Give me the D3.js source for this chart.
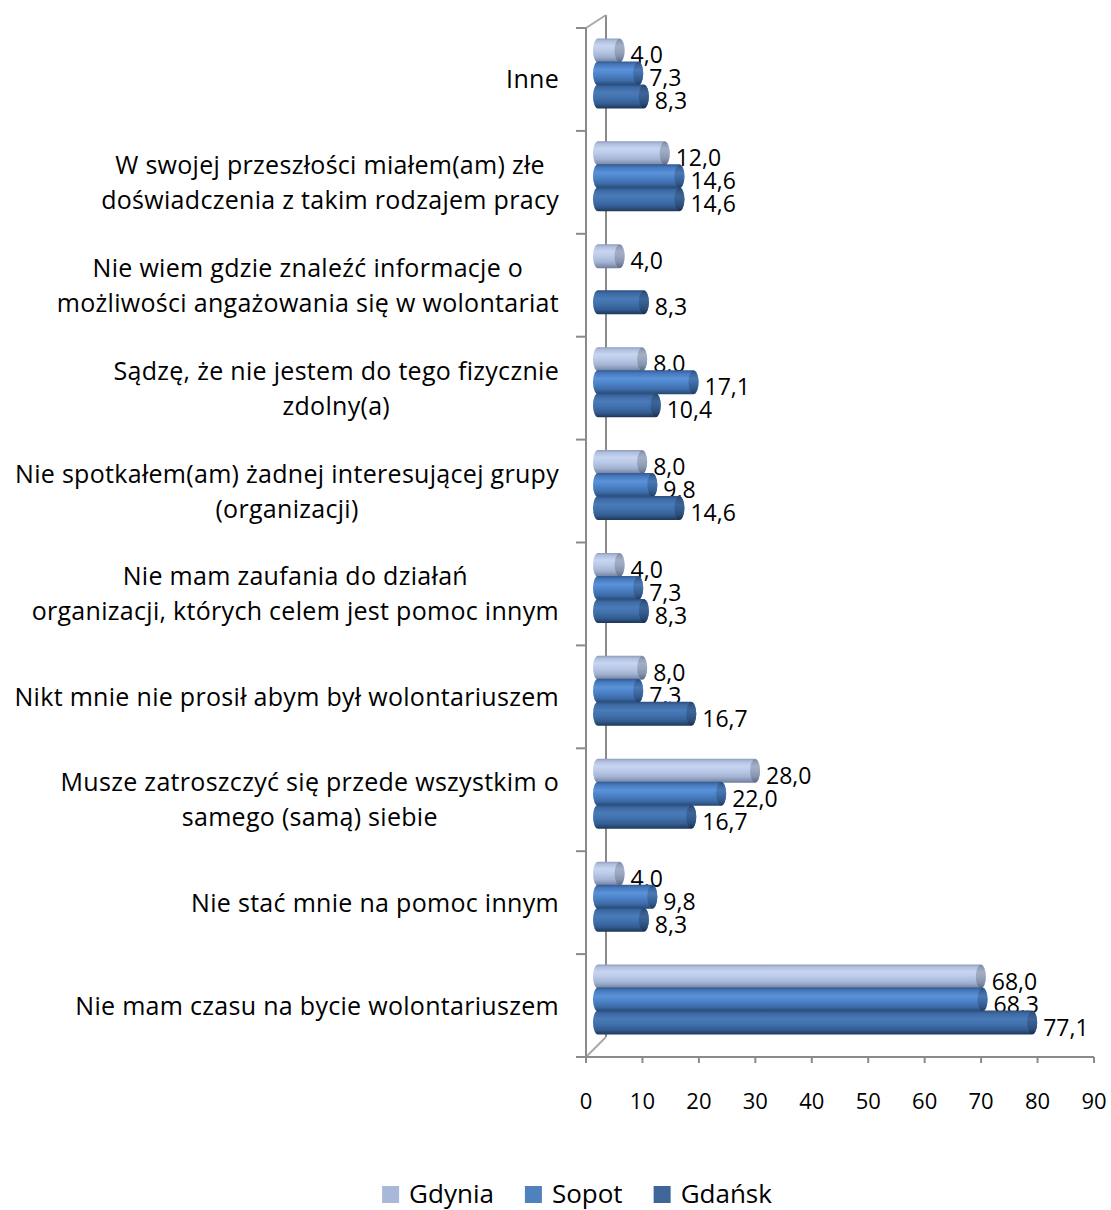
<!DOCTYPE html>
<html>
<head>
<meta charset="utf-8">
<script src="https://cdn.jsdelivr.net/npm/d3@7/dist/d3.min.js"></script>
<style>
  html, body { margin: 0; padding: 0; background: #ffffff; }
  svg { display: block; }
  text { font-family: "Open Sans", "Noto Sans", sans-serif; fill: #000; }
</style>
</head>
<body>
<svg id="chart" width="1111" height="1210"></svg>
<script>
// Reasons for not volunteering, by city (percent of respondents)
const categories = [
  "Inne",
  "W swojej przeszłości miałem(am) złe doświadczenia z takim rodzajem pracy",
  "Nie wiem gdzie znaleźć informacje o możliwości angażowania się w wolontariat",
  "Sądzę, że nie jestem do tego fizycznie zdolny(a)",
  "Nie spotkałem(am) żadnej interesującej grupy (organizacji)",
  "Nie mam zaufania do działań organizacji, których celem jest pomoc innym",
  "Nikt mnie nie prosił abym był wolontariuszem",
  "Musze zatroszczyć się przede wszystkim o samego (samą) siebie",
  "Nie stać mnie na pomoc innym",
  "Nie mam czasu na bycie wolontariuszem"
];
const categoryLines = [
  ["Inne"],
  ["W swojej przeszłości miałem(am) złe", "doświadczenia z takim rodzajem pracy"],
  ["Nie wiem gdzie znaleźć informacje o", "możliwości angażowania się w wolontariat"],
  ["Sądzę, że nie jestem do tego fizycznie", "zdolny(a)"],
  ["Nie spotkałem(am) żadnej interesującej grupy", "(organizacji)"],
  ["Nie mam zaufania do działań", "organizacji, których celem jest pomoc innym"],
  ["Nikt mnie nie prosił abym był wolontariuszem"],
  ["Musze zatroszczyć się przede wszystkim o", "samego (samą) siebie"],
  ["Nie stać mnie na pomoc innym"],
  ["Nie mam czasu na bycie wolontariuszem"]
];
const seriesNames = ["Gdynia", "Sopot", "Gdańsk"];
const gdynia = [4.0, 12.0, 4.0, 8.0, 8.0, 4.0, 8.0, 28.0, 4.0, 68.0];
const sopot  = [7.3, 14.6, null, 17.1, 9.8, 7.3, 7.3, 22.0, 9.8, 68.3];
const gdansk = [8.3, 14.6, 8.3, 10.4, 14.6, 8.3, 16.7, 16.7, 8.3, 77.1];
const seriesValues = [gdynia, sopot, gdansk];
const xTicks = [0, 10, 20, 30, 40, 50, 60, 70, 80, 90];

const legendColors = ["#A7B8D8", "#4F81BD", "#3E6698"];
const gradientStops = [
  [[0, "#8D9CBA"], [0.1, "#AEBEDD"], [0.3, "#C7D5F1"], [0.5, "#BBCAE8"], [0.75, "#A3B3D3"], [0.9, "#8694B3"], [1, "#6E7D9B"]],
  [[0, "#2F5A93"], [0.12, "#4677BA"], [0.35, "#5A93DA"], [0.55, "#4D83C8"], [0.8, "#3D6CAA"], [0.92, "#2F5787"], [1, "#24466F"]],
  [[0, "#2B4E7E"], [0.12, "#3D69A3"], [0.35, "#4A7BB8"], [0.55, "#4172AE"], [0.8, "#345D93"], [0.92, "#27476F"], [1, "#1D3656"]]
];

const svg = d3.select("#chart");
const fmt = v => d3.format(".1f")(v).replace(".", ",");

// Front plane scales
const x = d3.scaleLinear().domain([0, 90]).range([586, 1094]);
const y = d3.scaleBand().domain(categories).range([28, 1057]);
const sub = d3.scaleBand().domain(seriesNames).range([0, y.bandwidth()]).paddingOuter(0.737);

// Depth offsets of the back wall and of the bar plane
const wallDx = 20, wallDyTop = -13, wallDyBottom = -20;
const barDx = 16, barDy = -6.5, barLeftDx = 7, capRx = 5;

// Gradients for the cylindrical bars and their end caps
const defs = svg.append("defs");
gradientStops.forEach((stops, i) => {
  const g = defs.append("linearGradient").attr("id", "body" + i)
    .attr("x1", 0).attr("y1", 0).attr("x2", 0).attr("y2", 1);
  stops.forEach(([o, c]) => g.append("stop").attr("offset", o).attr("stop-color", c));
  const c = defs.append("linearGradient").attr("id", "cap" + i)
    .attr("x1", 0).attr("y1", 0).attr("x2", 0).attr("y2", 1);
  stops.forEach(([o, col]) => c.append("stop").attr("offset", o)
    .attr("stop-color", d3.color(col).darker(0.55).formatHex()));
});

const axisColor = "#8a8a8a";
const x0 = x(0), yTop = y.range()[0], yBot = y.range()[1];

// Back wall edge and the diagonals joining it to the front axes
const frame = svg.append("g").attr("stroke", axisColor).attr("fill", "none");
frame.append("line").attr("x1", x0 + wallDx).attr("x2", x0 + wallDx)
  .attr("y1", yTop + wallDyTop).attr("y2", yBot + wallDyBottom).attr("stroke-width", 2);
frame.append("line").attr("x1", x0).attr("y1", yTop).attr("x2", x0 + wallDx).attr("y2", yTop + wallDyTop)
  .attr("stroke", "#a8a8a8").attr("stroke-width", 2);
frame.append("line").attr("x1", x0).attr("y1", yBot).attr("x2", x0 + wallDx).attr("y2", yBot + wallDyBottom)
  .attr("stroke", "#a8a8a8").attr("stroke-width", 2);

// Bars and value labels, one series at a time so later bars sit on top
seriesNames.forEach((name, si) => {
  const g = svg.append("g");
  const rows = categories.map((c, ci) => ({ c, v: seriesValues[si][ci] })).filter(d => d.v != null);
  const top = d => y(d.c) + sub(name) + barDy;
  const h = sub.bandwidth() + 1;
  const right = d => x(d.v) + barDx;
  g.selectAll("rect.body").data(rows).join("rect")
    .attr("x", x0 + barLeftDx)
    .attr("y", top)
    .attr("width", d => Math.max(0, right(d) - (x0 + barLeftDx)))
    .attr("height", h)
    .attr("rx", capRx).attr("ry", h / 2)
    .attr("fill", `url(#body${si})`);
  g.selectAll("ellipse.cap").data(rows).join("ellipse")
    .attr("cx", d => right(d) - capRx)
    .attr("cy", d => top(d) + h / 2)
    .attr("rx", capRx).attr("ry", h / 2 - 0.5)
    .attr("fill", `url(#cap${si})`);
  g.selectAll("text").data(rows).join("text")
    .attr("x", d => right(d) + 6)
    .attr("y", d => top(d) + h / 2 + 13)
    .attr("font-size", 23)
    .text(d => fmt(d.v));
});

// Front vertical axis with category ticks
const yAxis = svg.append("g").attr("stroke", axisColor).attr("stroke-width", 2);
yAxis.append("line").attr("x1", x0).attr("x2", x0).attr("y1", yTop).attr("y2", yBot);
const bounds = categories.map(c => y(c)).concat([yBot]);
yAxis.selectAll("line.tick").data(bounds).join("line")
  .attr("x1", x0 - 10).attr("x2", x0).attr("y1", d => d).attr("y2", d => d);

// Bottom value axis
const xAxis = svg.append("g");
xAxis.append("line").attr("x1", x0).attr("x2", x(90)).attr("y1", yBot).attr("y2", yBot)
  .attr("stroke", axisColor).attr("stroke-width", 2);
xAxis.selectAll("line.tick").data(xTicks).join("line")
  .attr("x1", d => x(d)).attr("x2", d => x(d)).attr("y1", yBot).attr("y2", yBot + 6)
  .attr("stroke", axisColor).attr("stroke-width", 2);
xAxis.selectAll("text").data(xTicks).join("text")
  .attr("x", d => x(d)).attr("y", yBot + 52)
  .attr("text-anchor", "middle").attr("font-size", 22)
  .text(d => d);

// Category labels: centred lines, block right-aligned to the axis
const labelRight = 559, lineGap = 35;
categories.forEach((c, ci) => {
  const lines = categoryLines[ci];
  const g = svg.append("g");
  const texts = lines.map(l => g.append("text").attr("font-size", 25)
    .attr("letter-spacing", 0.3).text(l));
  const maxW = d3.max(texts, t => t.node().getComputedTextLength());
  const cx = labelRight - maxW / 2;
  const cy = y(c) + y.bandwidth() / 2;
  texts.forEach((t, li) => {
    t.attr("x", cx).attr("text-anchor", "middle")
     .attr("y", cy + (li - (lines.length - 1) / 2) * lineGap + 9);
  });
});

// Legend
const legend = svg.append("g");
let lx = 0;
seriesNames.forEach((n, i) => {
  const it = legend.append("g");
  it.append("rect").attr("x", 0).attr("y", -17).attr("width", 17).attr("height", 17).attr("fill", legendColors[i]);
  const t = it.append("text").attr("x", 27).attr("y", 0).attr("font-size", 26).text(n);
  const w = 27 + t.node().getComputedTextLength();
  it.attr("transform", `translate(${lx},0)`);
  lx += w + 31;
});
const legendW = lx - 31;
legend.attr("transform", `translate(${577 - legendW / 2},1203)`);
</script>
</body>
</html>
